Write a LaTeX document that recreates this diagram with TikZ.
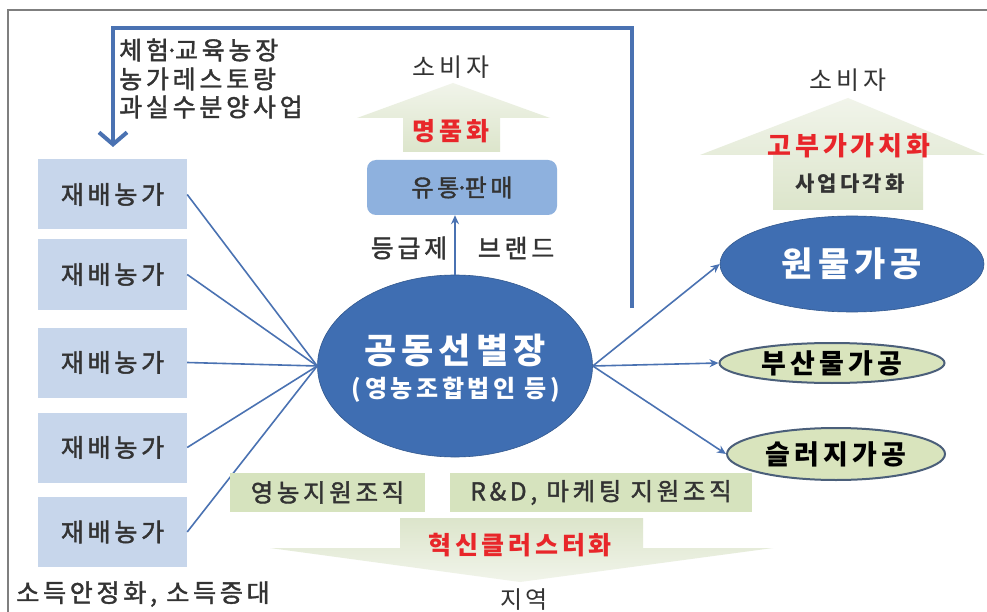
\documentclass[tikz,border=0pt]{standalone}
\usepackage{fontspec}
\setmainfont{Noto Sans CJK KR}[LetterSpace=15]
\newfontfamily\medfont{Noto Sans CJK KR}[LetterSpace=15, FakeBold=1.6]
\usetikzlibrary{shapes.geometric,arrows.meta}
\definecolor{framegray}{HTML}{7F7F7F}
\definecolor{farmblue}{HTML}{C7D6EB}
\definecolor{linkblue}{HTML}{4A72B2}
\definecolor{bigblue}{HTML}{3F6EB2}
\definecolor{midblue}{HTML}{8EB1DE}
\definecolor{arrowgreen}{HTML}{DCE5CB}
\definecolor{arrowlight}{HTML}{F1F4EA}
\definecolor{boxgreen}{HTML}{D6E3BE}
\definecolor{ovalgreen}{HTML}{D9E4BD}
\definecolor{ovalline}{HTML}{4B5F7A}
\definecolor{txt}{HTML}{333333}
\definecolor{redtxt}{HTML}{E8262A}
\begin{document}
\begin{tikzpicture}[x=1pt,y=-1pt,
  farm/.style={fill=farmblue, minimum width=149pt, minimum height=70pt, inner sep=0pt,
    font=\medfont\fontsize{25}{27}\selectfont, text=txt},
  link/.style={draw=linkblue, line width=1.6pt},
  linkarrow/.style={link, -{Stealth[length=9pt,width=8pt]}},
  bracket/.style={draw=linkblue, line width=4pt, -{Straight Barb[length=12pt,width=28pt]}},
  bigoval/.style={ellipse, fill=bigblue, draw=bigblue!80!black, line width=0.6pt, inner sep=0pt, text=white},
  smalloval/.style={ellipse, fill=ovalgreen, draw=ovalline, line width=2pt, inner sep=0pt, text=black,
    font=\bfseries\fontsize{27}{28}\selectfont},
  greenbox/.style={fill=boxgreen, inner sep=0pt, minimum height=39pt, text=txt,
    font=\medfont\fontsize{24.5}{26}\selectfont},
  upshape/.style={top color=arrowlight, bottom color=arrowgreen, draw=none},
  label/.style={text=txt, font=\fontsize{25}{27}\selectfont, inner sep=0pt},
  medlabel/.style={text=txt, font=\medfont\fontsize{25}{27}\selectfont, inner sep=0pt},
  redlabel/.style={text=redtxt, font=\bfseries\fontsize{25}{27}\selectfont, inner sep=0pt}
]
\useasboundingbox (0,0) rectangle (987,612);
\fill[white] (0,0) rectangle (987,612);
\draw[framegray, line width=1.2pt] (8,612) -- (8,10) -- (987,10);

% block arrows
\path[upshape] (403,152) -- (403,118) -- (357,118) -- (453,83) -- (550,118) -- (500,118) -- (500,152) -- cycle;
\path[upshape] (773,210) -- (773,155) -- (700,155) -- (848,98) -- (985,155) -- (923,155) -- (923,210) -- cycle;
\path[top color=arrowgreen, bottom color=arrowlight] (400,518) -- (643,518) -- (643,548) -- (773,548) -- (520,582) -- (270,548) -- (400,548) -- cycle;

% farms
\node[farm] (f1) at (112.5,194.5) {재배농가};
\node[farm] (f2) at (112.5,274.5) {재배농가};
\node[farm] (f3) at (112.5,362.5) {재배농가};
\node[farm] (f4) at (112.5,447.5) {재배농가};
\node[farm] (f5) at (112.5,532) {재배농가};

% central
\node[bigoval, minimum width=275pt, minimum height=182pt] (c) at (455,366) {};
\node[text=white, font=\bfseries\fontsize{35}{37}\selectfont, inner sep=0pt] (ct) at (455,350) {공동선별장};
\node[text=white, font=\bfseries\fontsize{24}{26}\selectfont, inner sep=0pt] (cs) at (456,390) {(영농조합법인 등)};

\foreach \i in {1,...,5} \draw[link] (f\i.east) -- (c.west);

% distribution box
\node[fill=midblue, rounded corners=9pt, minimum width=190pt, minimum height=55pt, inner sep=0pt,
  text=txt, font=\medfont\fontsize{24}{26}\selectfont] (u) at (462,187.5) {유통\kern-4pt·\kern-4pt판매};
\draw[linkarrow] (c.north) -- (c.north |- u.south);
\node[medlabel] (l1) at (409,248) {등급제};
\node[medlabel] (l2) at (516,248) {브랜드};

% feedback bracket
\coordinate (brs) at (632,308);
\coordinate (brt) at (113,147);
\draw[bracket] (brs) -- (632,28) -- (113,28) -- (brt);
\node[medlabel, anchor=west] (e1) at (119,50) {체험\kern-4pt·\kern-4pt교육농장};
\node[medlabel, anchor=west] (e2) at (119,79) {농가레스토랑};
\node[medlabel, anchor=west] (e3) at (119,107) {과실수분양사업};

% top middle arrow labels
\node[label] (cons1) at (451,67) {소비자};
\node[redlabel] (lux) at (451,131) {명품화};

% right side
\node[label] (cons2) at (848,80) {소비자};
\node[redlabel, font=\bfseries\fontsize{26}{28}\selectfont] (hv) at (849,146) {고부가가치화};
\node[text=txt, font=\bfseries\fontsize{21}{23}\selectfont, inner sep=0pt] (div) at (850,184) {사업다각화};

\node[bigoval, minimum width=264pt, minimum height=96pt, font=\bfseries\fontsize{34}{36}\selectfont] (o1) at (852,264) {원물가공};
\node[smalloval, minimum width=225pt, minimum height=40pt] (o2) at (832,363) {부산물가공};
\node[smalloval, minimum width=218pt, minimum height=52pt] (o3) at (836,454) {슬러지가공};
\draw[linkarrow] (c.east) -- (o1.west);
\draw[linkarrow] (c.east) -- (o2.west);
\draw[linkarrow] (c.east) -- (o3.west);

% bottom
\node[greenbox, minimum width=195pt] (g1) at (327.5,492.5) {영농지원조직};
\node[greenbox, minimum width=302pt] (g2) at (601,492.5) {R\&D, 마케팅 지원조직};
\node[redlabel] (clu) at (520,545) {혁신클러스터화};
\node[label, font=\fontsize{24}{26}\selectfont] (reg) at (524,600) {지역};
\node[medlabel] (inc) at (143,594) {소득안정화, 소득증대};
\end{tikzpicture}
\end{document}
